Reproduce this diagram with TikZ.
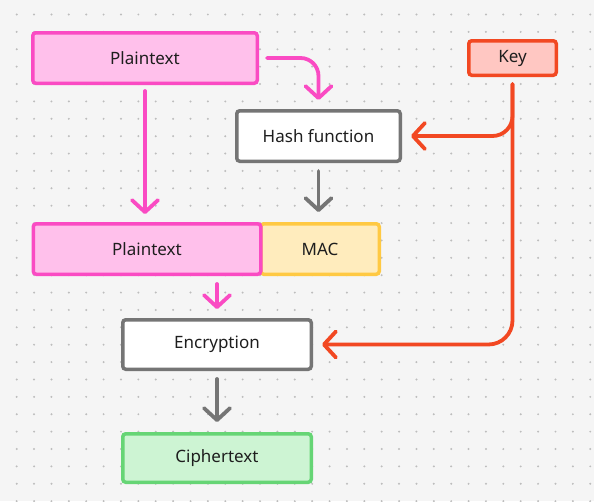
\documentclass[tikz,border=0pt]{standalone}
\usepackage{fontspec}
\setmainfont{Noto Sans}
\usetikzlibrary{arrows.meta,positioning}

\definecolor{canvas}{HTML}{F5F5F5}
\definecolor{griddot}{HTML}{BDBDBD}
\definecolor{ink}{HTML}{1E1E1E}
\definecolor{pinkline}{HTML}{FA4BC3}
\definecolor{pinkfill}{HTML}{FFC0EB}
\definecolor{keyline}{HTML}{F24822}
\definecolor{keyfill}{HTML}{FFC7C2}
\definecolor{grayline}{HTML}{757575}
\definecolor{macline}{HTML}{FFC943}
\definecolor{macfill}{HTML}{FFECBD}
\definecolor{greenline}{HTML}{66D575}
\definecolor{greenfill}{HTML}{CDF4D3}

\begin{document}
\begin{tikzpicture}[
  x=1pt, y=-1pt,
  box/.style={rectangle, draw, line width=3.5pt, rounded corners=3pt, inner sep=0pt,
    text=ink, font=\fontsize{17}{20}\selectfont},
  plain/.style={box, draw=pinkline, fill=pinkfill, minimum width=224.5pt, minimum height=50.5pt},
  keybox/.style={box, draw=keyline, fill=keyfill, minimum width=87.5pt, minimum height=34.5pt},
  proc/.style={box, draw=grayline, fill=white, minimum height=49.5pt},
  macbox/.style={box, draw=macline, fill=macfill, minimum width=118.5pt, minimum height=50.5pt},
  cipher/.style={box, draw=greenline, fill=greenfill, minimum width=188.5pt, minimum height=48.5pt},
  arr/.style={-{Straight Barb[length=12pt, width=26pt, round]}, line width=3.8pt, line cap=round},
  parr/.style={arr, draw=pinkline},
  garr/.style={arr, draw=grayline},
  karr/.style={arr, draw=keyline}
]
\useasboundingbox (0,0) rectangle (594,501);
\fill[canvas] (0,0) rectangle (594,501);
\foreach \i in {0,...,33}
  \foreach \j in {0,...,28}
    \fill[griddot] (16.7+17.38*\i, 14.5+17.38*\j) circle (1.1pt);

% boxes
\node[plain] (pt1) at (145,58) {Plaintext};
\node[keybox] (key) at (512.5,58) {Key};
\node[proc, minimum width=163.5pt, minimum height=50.5pt] (hash) at (318.5,136) {Hash function};
\node[macbox] (mac) at (320,249) {MAC};
\node[plain, minimum width=227.5pt, left=-3.5pt of mac] (pt2) {Plaintext};
\node[proc, minimum width=188.5pt] (enc) at (217,344.5) {Encryption};
\node[cipher] (ciph) at (217,458) {Ciphertext};

% connectors
\draw[parr, shorten <=6pt, shorten >=8pt] (pt1) -- (pt1 |- pt2.north);
\draw[parr, rounded corners=18pt, shorten <=8pt, shorten >=9pt] (pt1.east) -| (hash.north);
\draw[garr, shorten <=8pt, shorten >=10pt] (hash.south) -- (hash.south |- mac.north);
\draw[karr, rounded corners=20pt, shorten <=7pt, shorten >=9pt] (key.south) |- (hash.east);
\draw[karr, rounded corners=24pt, shorten <=7pt, shorten >=9pt] (key.south) |- (enc.east);
\draw[parr, shorten <=8pt, shorten >=9pt] (enc.north |- pt2.south) -- (enc.north);
\draw[garr, shorten <=8pt, shorten >=10pt] (enc.south) -- (ciph.north);
\end{tikzpicture}
\end{document}
